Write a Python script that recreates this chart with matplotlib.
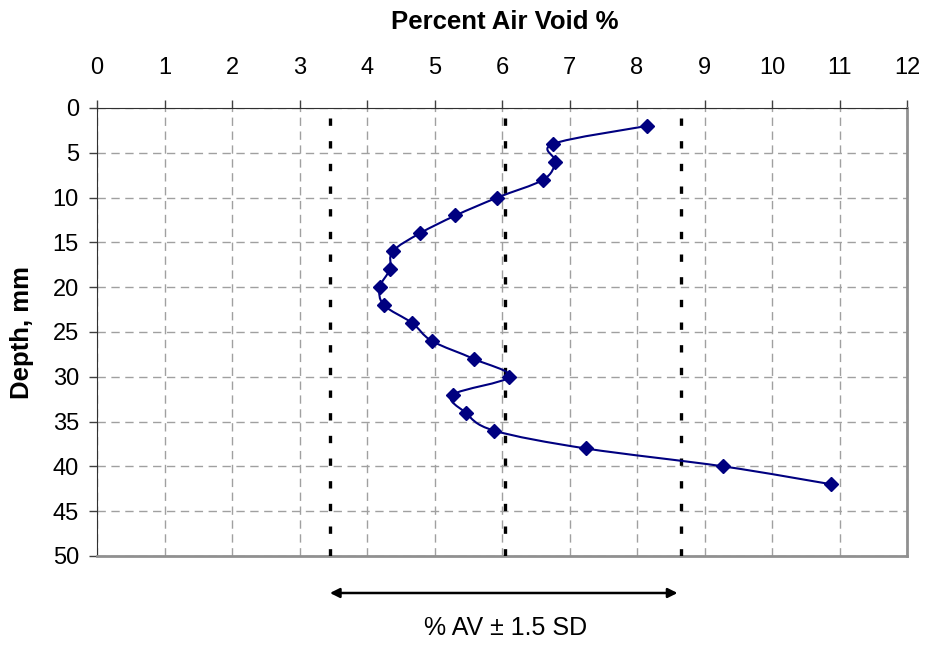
import numpy as np
import matplotlib.pyplot as plt
from matplotlib.path import Path
from matplotlib.patches import PathPatch

plt.rcParams['font.family'] = ['Liberation Sans', 'DejaVu Sans']

# air void profile
depth = [2, 4, 6, 8, 10, 12, 14, 16, 18, 20, 22, 24, 26, 28, 30, 32, 34, 36, 38, 40, 42]
air_void = [8.15, 6.76, 6.79, 6.61, 5.93, 5.31, 4.78, 4.38, 4.34, 4.19, 4.25,
            4.67, 4.96, 5.58, 6.11, 5.27, 5.46, 5.88, 7.24, 9.28, 10.88]
mean_av = 6.05
band = [3.45, 6.05, 8.65]   # mean - 1.5 SD, mean, mean + 1.5 SD
xticks = list(range(0, 13))
yticks = list(range(0, 51, 5))

fig = plt.figure(figsize=(9.26, 6.45), dpi=100)
ax = fig.add_axes([0.1048, 0.138, 0.8747, 0.6946])

def smooth_path(xs, ys):
    # excel style smoothed line: catmull-rom segments as cubic beziers
    p = np.column_stack([xs, ys]).astype(float)
    n = len(p)
    verts = [p[0]]
    codes = [Path.MOVETO]
    for i in range(n - 1):
        p0 = p[i - 1] if i > 0 else p[i]
        p3 = p[i + 2] if i + 2 < n else p[i + 1]
        c1 = p[i] + (p[i + 1] - p0) / 6
        c2 = p[i + 1] - (p3 - p[i]) / 6
        verts += [c1, c2, p[i + 1]]
        codes += [Path.CURVE4] * 3
    return Path(verts, codes)

ax.add_patch(PathPatch(smooth_path(air_void, depth), facecolor='none',
                       edgecolor='#000080', lw=1.5, zorder=4))
ax.plot(air_void, depth, linestyle='none', marker='D', markersize=7,
        color='#000080', zorder=5)

for v in band:
    ax.axvline(v, color='black', lw=2.4, linestyle=(0, (2.2, 4.6)), zorder=3)

ax.set_xlim(0, 12)
ax.set_ylim(50, 0)
ax.set_xticks(xticks)
ax.set_yticks(yticks)
ax.xaxis.tick_top()
ax.tick_params(axis='both', labelsize=17, direction='out', length=6, width=1, color='#404040')
ax.tick_params(axis='x', pad=15)
ax.tick_params(axis='y', pad=7)
ax.grid(True, color='#a0a0a0', lw=1, linestyle=(0, (6, 4)))
ax.set_axisbelow(True)

ax.spines['left'].set_color('#303030')
ax.spines['top'].set_color('#303030')
ax.spines['right'].set_color('#909090')
ax.spines['bottom'].set_color('#909090')
ax.spines['right'].set_linewidth(2)
ax.spines['bottom'].set_linewidth(2)

fig.text(0.545, 0.966, 'Percent Air Void %', fontsize=18.5, fontweight='bold',
         ha='center', va='center')
fig.text(0.0238, 0.485, 'Depth, mm', fontsize=18.5, fontweight='bold',
         rotation=90, ha='center', va='center')

# arrow marking the +/- 1.5 SD band
ax.annotate('', xy=(band[0], -0.0826), xytext=(band[2] - 0.05, -0.0826),
            xycoords=('data', 'axes fraction'), textcoords=('data', 'axes fraction'),
            arrowprops=dict(arrowstyle='<|-|>', color='black', lw=1.8,
                            mutation_scale=14, shrinkA=0, shrinkB=0))
ax.text(mean_av, -0.161, '% AV \u00b1 1.5 SD', transform=ax.get_xaxis_transform(),
        ha='center', va='center', fontsize=18)

fig.savefig('out.png', dpi=100)
